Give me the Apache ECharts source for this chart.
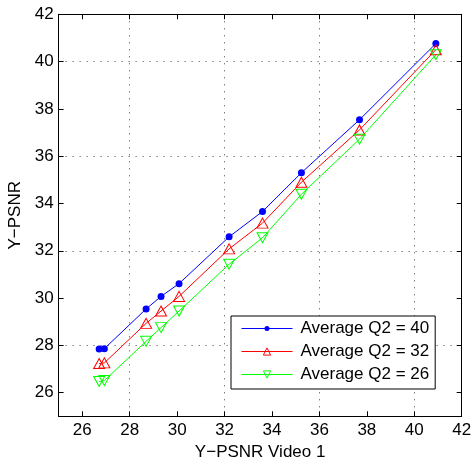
<!DOCTYPE html>
<html><head><meta charset="utf-8">
<script src="https://cdn.jsdelivr.net/npm/echarts@6/dist/echarts.min.js"></script>
<style>html,body{margin:0;padding:0;background:#fff}#c{width:472px;height:462px}</style>
</head><body><div id="c"></div>
<script>
var xVideo1 = [26.71, 26.93, 28.69, 29.32, 30.08, 32.19, 33.60, 35.24, 37.69, 40.91];
var q40 = [27.85, 27.86, 29.54, 30.07, 30.61, 32.59, 33.66, 35.30, 37.54, 40.76];
var q32 = [27.23, 27.26, 28.93, 29.45, 30.07, 32.08, 33.17, 34.90, 37.11, 40.50];
var q26 = [26.47, 26.51, 28.17, 28.75, 29.45, 31.43, 32.55, 34.39, 36.72, 40.29];
var seriesNames = ['Average Q2 = 40', 'Average Q2 = 32', 'Average Q2 = 26'];
var xTicks = [26, 28, 30, 32, 34, 36, 38, 40, 42];
var yTicks = [26, 28, 30, 32, 34, 36, 38, 40, 42];

function pairs(ys){ return xVideo1.map(function(x,i){ return [x, ys[i]]; }); }
var FONT = 'Liberation Sans, Arial, sans-serif';
var gridStyle = {type:[1,6], color:['rgba(0,0,0,0)','#444'], width:1};
function axisBase(show, pos, ticks){
  return {
    type:'value', min:25, max:42, interval:1, position:pos,
    axisLine:{show:true, onZero:false, lineStyle:{color:'#000', width:1}},
    axisTick:{show:true, inside:true, length:5, lineStyle:{color:'#000'}, customValues: ticks},
    axisLabel:{show:show, fontSize:17, color:'#000', fontFamily:FONT, customValues: ticks},
    splitLine:{show:false}
  };
}
var xMain = axisBase(true,'bottom', xTicks);
xMain.axisLabel.margin = 6;
xMain.name = 'Y\u2212PSNR Video 1'; xMain.nameLocation='middle'; xMain.nameGap=28;
xMain.nameTextStyle = {fontSize:17, color:'#000', fontFamily:FONT};
xMain.splitLine = {show:true, lineStyle:gridStyle};
var xTop = axisBase(false,'top', xTicks);
var yMain = axisBase(true,'left', yTicks);
yMain.axisLabel.margin = 5;
yMain.name = 'Y\u2212PSNR'; yMain.nameLocation='middle'; yMain.nameGap=33;
yMain.nameTextStyle = {fontSize:17, color:'#000', fontFamily:FONT};
yMain.splitLine = {show:true, lineStyle:gridStyle};
var yRight = axisBase(false,'right', yTicks);

var chart = echarts.init(document.getElementById('c'), null, {renderer:'canvas'});
chart.setOption({
  animation:false,
  backgroundColor:'#fff',
  grid:{left:58.6, right:10.3, top:14.3, bottom:45.7, outerBoundsMode:'none', containLabel:false},
  xAxis:[xMain, xTop],
  yAxis:[yMain, yRight],
  legend:{
    orient:'vertical', left:231, top:316, width:206,
    backgroundColor:'#fff', borderColor:'#000', borderWidth:1,
    padding:[4,6,6,10], itemGap:6, itemWidth:51, itemHeight:9,
    lineStyle:{width:1}, itemStyle:{borderWidth:1},
    textStyle:{fontSize:17, color:'#000', fontFamily:FONT, padding:[0,0,0,3]},
    data: [
      {name:seriesNames[0], icon:'path://M0,2.6 L51,2.6 L51,3.4 L0,3.4 Z M23,3 A2.5,2.5 0 1,1 28,3 A2.5,2.5 0 1,1 23,3 Z'},
      {name:seriesNames[1]},
      {name:seriesNames[2]}
    ]
  },
  series:[
    {name:seriesNames[0], type:'line', data:pairs(q40), symbol:'circle', symbolSize:7,
     lineStyle:{color:'#0000ff', width:1}, itemStyle:{color:'#0000ff'}},
    {name:seriesNames[1], type:'line', data:pairs(q32), symbol:'triangle', symbolSize:[11,10],
     lineStyle:{color:'#ff0000', width:1}, itemStyle:{color:'rgba(0,0,0,0)', borderColor:'#ff0000', borderWidth:1}},
    {name:seriesNames[2], type:'line', data:pairs(q26), symbol:'triangle', symbolRotate:180, symbolSize:[11,10],
     lineStyle:{color:'#00ff00', width:1}, itemStyle:{color:'rgba(0,0,0,0)', borderColor:'#00ff00', borderWidth:1}}
  ]
});
</script></body></html>
